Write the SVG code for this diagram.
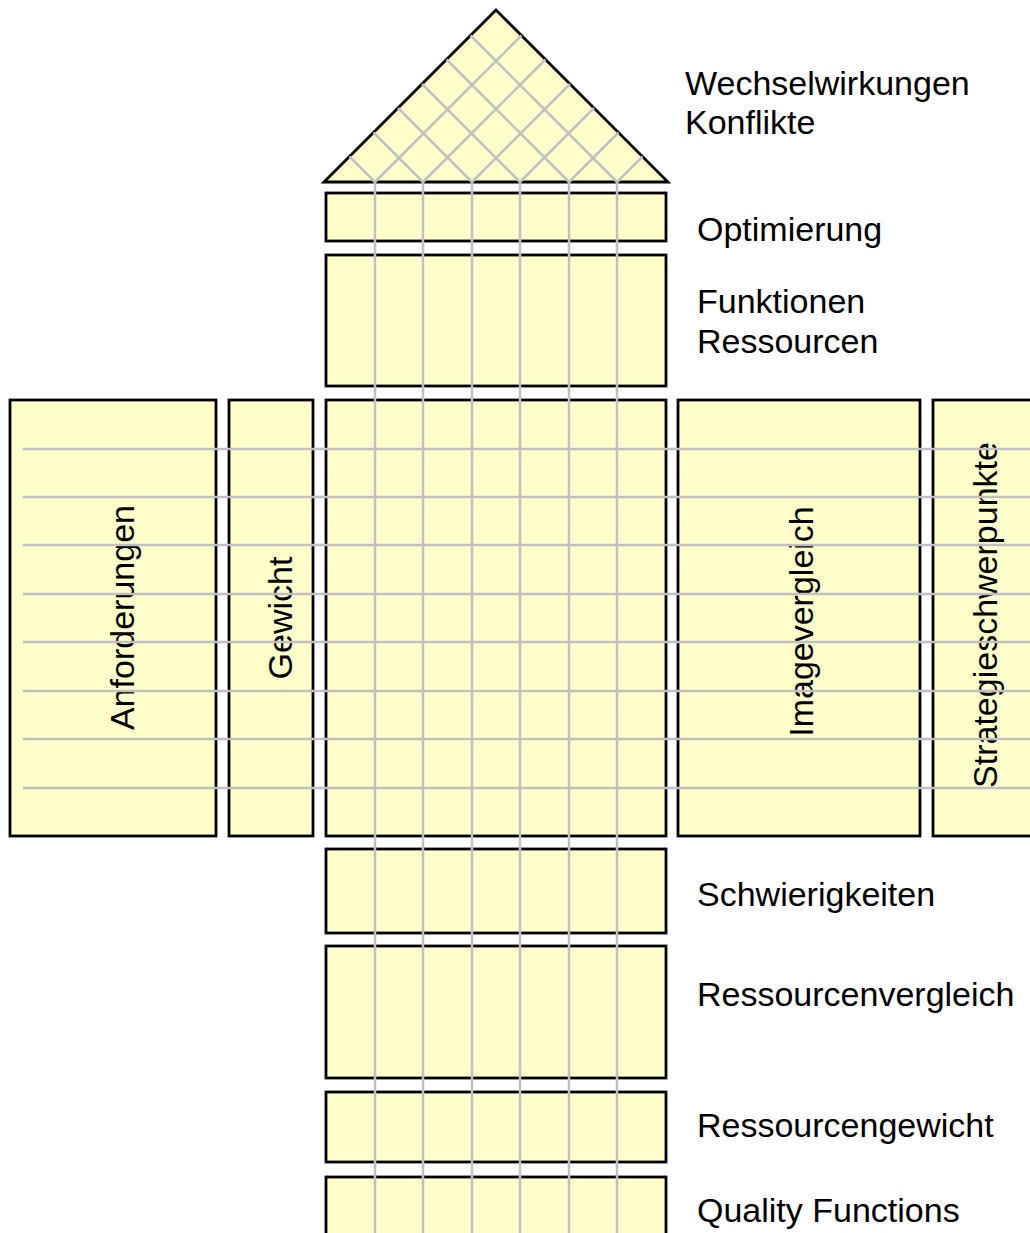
<svg xmlns="http://www.w3.org/2000/svg" width="1030" height="1233" viewBox="0 0 1030 1233">
  <style>
    .box { fill: #ffffcc; stroke: #000000; stroke-width: 2.8; stroke-linejoin: miter; }
    .grid line { stroke: #c0c0c0; stroke-width: 2.5; stroke-linecap: butt; }
    .lbl { font-family: "Liberation Sans", Arial, sans-serif; font-size: 34px; fill: #000000; }
    .vlbl { font-family: "Liberation Sans", Arial, sans-serif; font-size: 34px; fill: #000000; text-anchor: middle; }
  </style>
  <rect width="1030" height="1233" fill="#ffffff"/>

  <!-- roof: correlation matrix -->
  <g id="wechselwirkungen">
    <polygon class="box" points="324,182 496,10 668,182"/>
    <text class="lbl" x="685" y="95">Wechselwirkungen</text>
    <text class="lbl" x="685" y="134">Konflikte</text>
  </g>

  <g id="optimierung">
    <rect class="box" x="326" y="193" width="340" height="48"/>
    <text class="lbl" x="697" y="241">Optimierung</text>
  </g>

  <g id="funktionen">
    <rect class="box" x="326" y="255" width="340" height="131"/>
    <text class="lbl" x="697" y="313">Funktionen</text>
    <text class="lbl" x="697" y="353">Ressourcen</text>
  </g>

  <g id="anforderungen">
    <rect class="box" x="10" y="400" width="206" height="436"/>
    <text class="vlbl" transform="translate(134,617.5) rotate(-90)">Anforderungen</text>
  </g>

  <g id="gewicht">
    <rect class="box" x="229" y="400" width="84" height="436"/>
    <text class="vlbl" transform="translate(292,618) rotate(-90)">Gewicht</text>
  </g>

  <g id="beziehungsmatrix">
    <rect class="box" x="326" y="400" width="340" height="436"/>
  </g>

  <g id="imagevergleich">
    <rect class="box" x="678" y="400" width="242" height="436"/>
    <text class="vlbl" transform="translate(813,621.5) rotate(-90)">Imagevergleich</text>
  </g>

  <g id="strategieschwerpunkte">
    <rect class="box" x="933" y="400" width="120" height="436"/>
    <text class="vlbl" transform="translate(997,615) rotate(-90)">Strategieschwerpunkte</text>
  </g>

  <g id="schwierigkeiten">
    <rect class="box" x="326" y="849" width="340" height="84"/>
    <text class="lbl" x="697" y="906">Schwierigkeiten</text>
  </g>

  <g id="ressourcenvergleich">
    <rect class="box" x="326" y="946" width="340" height="132"/>
    <text class="lbl" x="697" y="1006">Ressourcenvergleich</text>
  </g>

  <g id="ressourcengewicht">
    <rect class="box" x="326" y="1092" width="340" height="70"/>
    <text class="lbl" x="697" y="1137">Ressourcengewicht</text>
  </g>

  <g id="quality-functions">
    <rect class="box" x="326" y="1177" width="340" height="80"/>
    <text class="lbl" x="697" y="1222">Quality Functions</text>
  </g>

  <!-- grid lines running through the house -->
  <g id="connectors" class="grid">
    <!-- roof diagonals from each column foot -->
    <line x1="375" y1="182" x2="349.5" y2="156.5"/>
    <line x1="375" y1="182" x2="521.5" y2="35.5"/>
    <line x1="423" y1="182" x2="373.5" y2="132.5"/>
    <line x1="423" y1="182" x2="545.5" y2="59.5"/>
    <line x1="472" y1="182" x2="398" y2="108"/>
    <line x1="472" y1="182" x2="570" y2="84"/>
    <line x1="520" y1="182" x2="422" y2="84"/>
    <line x1="520" y1="182" x2="594" y2="108"/>
    <line x1="569" y1="182" x2="446.5" y2="59.5"/>
    <line x1="569" y1="182" x2="618.5" y2="132.5"/>
    <line x1="617" y1="182" x2="470.5" y2="35.5"/>
    <line x1="617" y1="182" x2="642.5" y2="156.5"/>
    <!-- columns -->
    <line x1="375" y1="182" x2="375" y2="1233"/>
    <line x1="423" y1="182" x2="423" y2="1233"/>
    <line x1="472" y1="182" x2="472" y2="1233"/>
    <line x1="520" y1="182" x2="520" y2="1233"/>
    <line x1="569" y1="182" x2="569" y2="1233"/>
    <line x1="617" y1="182" x2="617" y2="1233"/>
    <!-- rows -->
    <line x1="23" y1="449" x2="1030" y2="449"/>
    <line x1="23" y1="497" x2="1030" y2="497"/>
    <line x1="23" y1="545" x2="1030" y2="545"/>
    <line x1="23" y1="594" x2="1030" y2="594"/>
    <line x1="23" y1="642" x2="1030" y2="642"/>
    <line x1="23" y1="691" x2="1030" y2="691"/>
    <line x1="23" y1="739" x2="1030" y2="739"/>
    <line x1="23" y1="788" x2="1030" y2="788"/>
  </g>
</svg>
